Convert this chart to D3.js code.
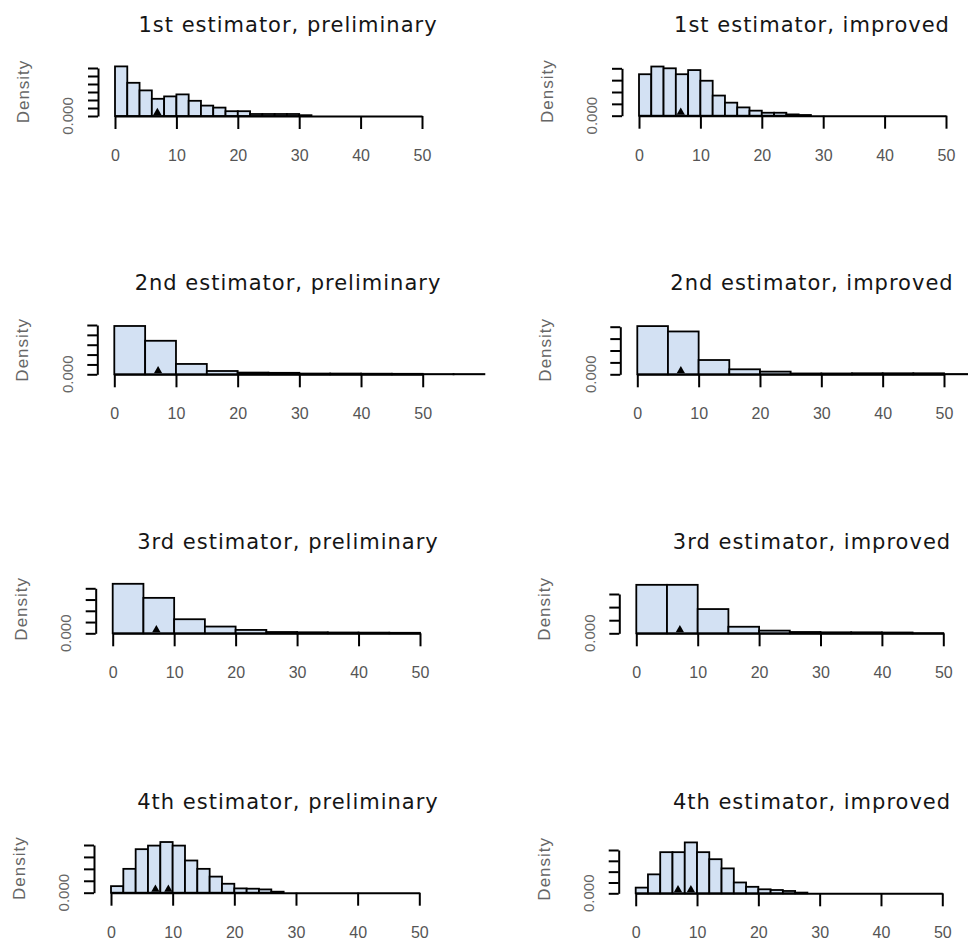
<!DOCTYPE html>
<html>
<head>
<meta charset="utf-8">
<script src="https://cdn.jsdelivr.net/npm/d3@7"></script>
<style>
  html, body { margin: 0; padding: 0; background: #fff; }
  svg { display: block; }
</style>
</head>
<body>
<svg id="chart" width="968" height="940"></svg>
<script>
// Panel titles, row by row (left: preliminary, right: improved)
const titles = [
  "1st estimator, preliminary", "1st estimator, improved",
  "2nd estimator, preliminary", "2nd estimator, improved",
  "3rd estimator, preliminary", "3rd estimator, improved",
  "4th estimator, preliminary", "4th estimator, improved"
];

// Histogram bin edges
const breaks1Pre = [0,2,4,6,8,10,12,14,16,18,20,22,24,26,28,30,32];
const breaks1Imp = [0,2,4,6,8,10,12,14,16,18,20,22,24,26,28];
const breaks2Pre = [0,5,10,15,20,25,30,35,40,45,50,55,60];
const breaks2Imp = [0,5,10,15,20,25,30,35,40,45,50,55,60];
const breaks3Pre = [0,5,10,15,20,25,30,35,40,45,50];
const breaks3Imp = [0,5,10,15,20,25,30,35,40,45,50];
const breaks4Pre = [0,2,4,6,8,10,12,14,16,18,20,22,24,26,28];
const breaks4Imp = [0,2,4,6,8,10,12,14,16,18,20,22,24,26,28];

// Densities per bin
const density1Pre = [0.124,0.083,0.064,0.043,0.049,0.054,0.038,0.026,0.021,0.012,0.012,0.005,0.005,0.005,0.005,0.002];
const density1Imp = [0.070,0.083,0.080,0.070,0.077,0.059,0.034,0.022,0.014,0.0085,0.005,0.005,0.0022,0.0012];
const density2Pre = [0.098,0.068,0.021,0.0067,0.0035,0.003,0.0015,0.0015,0.0012,0.001,0.0005,0.0005];
const density2Imp = [0.081,0.072,0.024,0.0084,0.0045,0.0014,0.0014,0.0017,0.0017,0.0017,0.0005,0.0005];
const density3Pre = [0.088,0.063,0.025,0.012,0.006,0.0023,0.0018,0.0014,0.0012,0.0009];
const density3Imp = [0.074,0.074,0.037,0.010,0.0041,0.002,0.0015,0.0015,0.0012,0.0003];
const density4Pre = [0.011,0.040,0.073,0.079,0.085,0.079,0.054,0.040,0.027,0.015,0.0072,0.0067,0.0055,0.0017];
const density4Imp = [0.0105,0.035,0.076,0.076,0.094,0.076,0.063,0.046,0.020,0.012,0.0074,0.0061,0.0043,0.0013];

// Reference markers on the baseline
const marks1Pre = [6.9], marks1Imp = [6.8];
const marks2Pre = [7.1], marks2Imp = [7.1];
const marks3Pre = [7.1], marks3Imp = [7.1];
const marks4Pre = [7.2, 9.3], marks4Imp = [6.9, 9.0];

// Axis ticks
const xTicks = [0, 10, 20, 30, 40, 50];
const yTicks1Pre = [0,0.02,0.04,0.06,0.08,0.10,0.12];
const yTicks1Imp = [0,0.02,0.04,0.06,0.08];
const yTicks2Pre = [0,0.02,0.04,0.06,0.08,0.10];
const yTicks2Imp = [0,0.02,0.04,0.06,0.08];
const yTicks3Pre = [0,0.02,0.04,0.06,0.08];
const yTicks3Imp = [0,0.02,0.04,0.06];
const yTicks4Pre = [0,0.02,0.04,0.06,0.08];
const yTicks4Imp = [0,0.02,0.04,0.06,0.08];

const yLabel = "Density";

const series = [
  {breaks: breaks1Pre, dens: density1Pre, marks: marks1Pre, yTicks: yTicks1Pre},
  {breaks: breaks1Imp, dens: density1Imp, marks: marks1Imp, yTicks: yTicks1Imp},
  {breaks: breaks2Pre, dens: density2Pre, marks: marks2Pre, yTicks: yTicks2Pre},
  {breaks: breaks2Imp, dens: density2Imp, marks: marks2Imp, yTicks: yTicks2Imp},
  {breaks: breaks3Pre, dens: density3Pre, marks: marks3Pre, yTicks: yTicks3Pre},
  {breaks: breaks3Imp, dens: density3Imp, marks: marks3Imp, yTicks: yTicks3Imp},
  {breaks: breaks4Pre, dens: density4Pre, marks: marks4Pre, yTicks: yTicks4Pre},
  {breaks: breaks4Imp, dens: density4Imp, marks: marks4Imp, yTicks: yTicks4Imp}
];

// Pixel frame of each panel: x of 0 and 50, baseline and top of the y axis
const frames = [
  {x0: 115,   x1: 422,   base: 116,   top: 68},
  {x0: 639,   x1: 946,   base: 115.7, top: 68.3},
  {x0: 114.3, x1: 422.7, base: 374.3, top: 325},
  {x0: 637.3, x1: 944,   base: 374.3, top: 326.7},
  {x0: 112.7, x1: 420,   base: 633.3, top: 588.3},
  {x0: 636.3, x1: 943.3, base: 633.3, top: 594},
  {x0: 111,   x1: 419.3, base: 892.7, top: 845},
  {x0: 635.7, x1: 942.3, base: 893.3, top: 850}
];

const svg = d3.select("#chart");
const barFill = "#d3e1f3";

series.forEach((s, i) => {
  const f = frames[i];
  const col = i % 2;
  const g = svg.append("g");

  const x = d3.scaleLinear().domain([0, 50]).range([f.x0, f.x1]);
  const y = d3.scaleLinear().domain([0, s.yTicks[s.yTicks.length - 1]]).range([f.base, f.top]);

  // title
  g.append("text")
    .attr("x", col === 0 ? 288 : 812)
    .attr("y", f.base - 84)
    .attr("text-anchor", "middle")
    .style("font-family", "'DejaVu Sans', sans-serif")
    .style("font-size", "21px")
    .style("letter-spacing", "1px")
    .style("fill", "#151515")
    .text(titles[i]);

  // histogram bars
  const bins = s.dens.map((d, k) => ({x0: s.breaks[k], x1: s.breaks[k + 1], d}));
  g.selectAll("rect.bar").data(bins).join("rect")
    .attr("class", "bar")
    .attr("x", b => x(b.x0))
    .attr("y", b => y(b.d))
    .attr("width", b => x(b.x1) - x(b.x0))
    .attr("height", b => f.base - y(b.d))
    .attr("fill", barFill)
    .attr("stroke", "#000")
    .attr("stroke-width", 1.8);

  // markers
  const tri = d3.symbol().type(d3.symbolTriangle).size(30);
  g.selectAll("path.mark").data(s.marks).join("path")
    .attr("class", "mark")
    .attr("d", tri)
    .attr("transform", m => `translate(${x(m)},${f.base - 3.4})`)
    .attr("fill", "#000");

  // x axis
  const xa = g.append("g")
    .attr("transform", `translate(0,${f.base})`)
    .call(d3.axisBottom(x).tickValues(xTicks).tickSize(13).tickSizeOuter(0).tickPadding(20.5));
  xa.select(".domain").attr("stroke", "#000").attr("stroke-width", 2);
  xa.selectAll(".tick line").attr("stroke", "#000").attr("stroke-width", 2);
  xa.selectAll(".tick text")
    .style("font-family", "'Liberation Sans', Arial, sans-serif")
    .style("font-size", "16px")
    .style("fill", "#555");

  // y axis
  const ya = g.append("g")
    .attr("transform", `translate(${f.x0 - 17},0)`)
    .call(d3.axisLeft(y).tickValues(s.yTicks).tickSize(10).tickSizeOuter(0).tickFormat(() => ""));
  ya.select(".domain").attr("stroke", "#000").attr("stroke-width", 2);
  ya.selectAll(".tick line").attr("stroke", "#000").attr("stroke-width", 2);

  // zero label on the y axis
  g.append("text")
    .attr("transform", `translate(${f.x0 - 47},${y(s.yTicks[0])}) rotate(-90)`)
    .attr("text-anchor", "middle")
    .attr("dy", "0.35em")
    .style("font-family", "'Liberation Sans', Arial, sans-serif")
    .style("font-size", "15px")
    .style("fill", "#666")
    .text(d3.format(".3f")(s.yTicks[0]));

  // y axis title
  g.append("text")
    .attr("transform", `translate(${f.x0 - 92},${f.base - 24.5}) rotate(-90)`)
    .attr("text-anchor", "middle")
    .attr("dy", "0.35em")
    .style("font-family", "'Liberation Sans', Arial, sans-serif")
    .style("font-size", "17px")
    .style("letter-spacing", "1px")
    .style("fill", "#666")
    .text(yLabel);
});
</script>
</body>
</html>
